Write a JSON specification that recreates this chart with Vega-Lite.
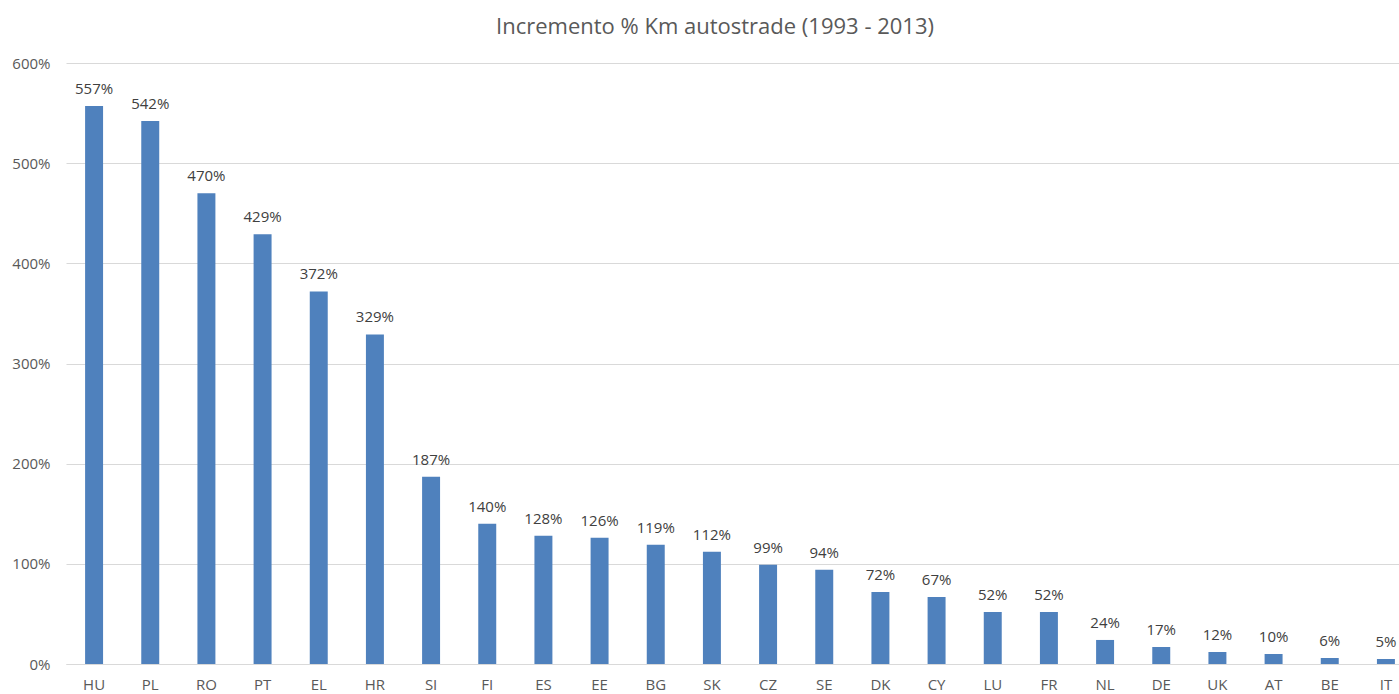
{
  "$schema": "https://vega.github.io/schema/vega-lite/v6.json",
  "autosize": "none",
  "width": 1348,
  "height": 601,
  "padding": {"left": 66, "top": 63, "right": 0, "bottom": 30},
  "background": "white",
  "title": {
    "text": "Incremento % Km autostrade (1993 - 2013)",
    "anchor": "middle",
    "frame": "group",
    "dx": -25,
    "offset": 17,
    "font": "Open Sans",
    "fontSize": 22,
    "fontWeight": "normal",
    "color": "#595959"
  },
  "config": {"view": {"stroke": null}},
  "data": {
    "values": [
      {"paese": "HU", "valore": 5.57},
      {"paese": "PL", "valore": 5.42},
      {"paese": "RO", "valore": 4.70},
      {"paese": "PT", "valore": 4.29},
      {"paese": "EL", "valore": 3.72},
      {"paese": "HR", "valore": 3.29},
      {"paese": "SI", "valore": 1.87},
      {"paese": "FI", "valore": 1.40},
      {"paese": "ES", "valore": 1.28},
      {"paese": "EE", "valore": 1.26},
      {"paese": "BG", "valore": 1.19},
      {"paese": "SK", "valore": 1.12},
      {"paese": "CZ", "valore": 0.99},
      {"paese": "SE", "valore": 0.94},
      {"paese": "DK", "valore": 0.72},
      {"paese": "CY", "valore": 0.67},
      {"paese": "LU", "valore": 0.52},
      {"paese": "FR", "valore": 0.52},
      {"paese": "NL", "valore": 0.24},
      {"paese": "DE", "valore": 0.17},
      {"paese": "UK", "valore": 0.12},
      {"paese": "AT", "valore": 0.10},
      {"paese": "BE", "valore": 0.06},
      {"paese": "IT", "valore": 0.05}
    ]
  },
  "encoding": {
    "x": {
      "field": "paese",
      "type": "nominal",
      "sort": null,
      "scale": {"paddingInner": 0.68, "paddingOuter": 0.34},
      "axis": {
        "title": null,
        "labelAngle": 0,
        "ticks": false,
        "domainColor": "#D9D9D9",
        "labelFont": "Open Sans",
        "labelFontSize": 15,
        "labelColor": "#595959",
        "labelPadding": 13
      }
    },
    "y": {
      "field": "valore",
      "type": "quantitative",
      "scale": {"domain": [0, 6], "nice": false},
      "axis": {
        "title": null,
        "values": [0, 1, 2, 3, 4, 5, 6],
        "format": ".0%",
        "ticks": false,
        "domain": false,
        "gridColor": "#D9D9D9",
        "labelFont": "Open Sans",
        "labelFontSize": 15,
        "labelColor": "#595959",
        "labelPadding": 16
      }
    }
  },
  "layer": [
    {"mark": {"type": "bar", "color": "#4F81BD"}},
    {
      "mark": {
        "type": "text",
        "baseline": "bottom",
        "dy": -9,
        "font": "Open Sans",
        "fontSize": 15,
        "color": "#404040"
      },
      "encoding": {"text": {"field": "valore", "type": "quantitative", "format": ".0%"}}
    }
  ]
}
